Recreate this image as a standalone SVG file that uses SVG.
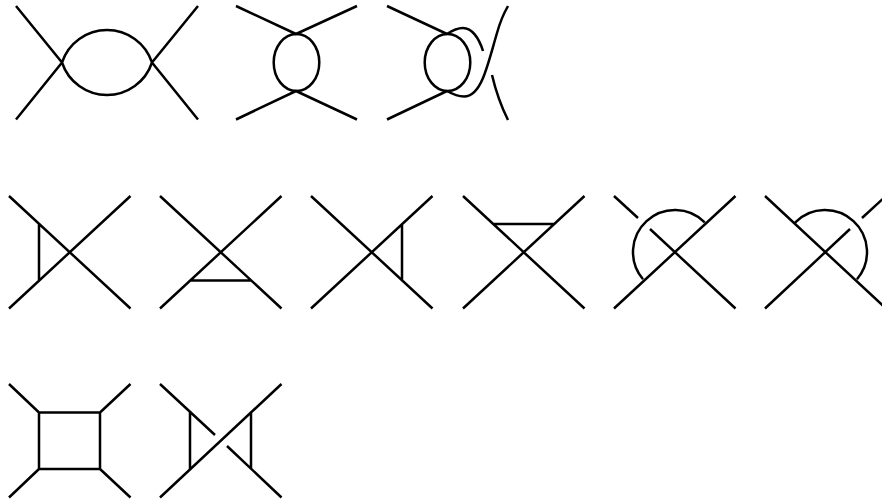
<svg xmlns="http://www.w3.org/2000/svg" width="882" height="502" viewBox="0 0 882 502">
<style>
path,ellipse{fill:none;stroke:#000;stroke-width:2.5}
</style>
<rect width="882" height="502" fill="#fff"/>
<g id="connectors"></g>
<g id="bubble-wide"><path d="M16 6L62 62.500L16 119.500M198 6L152 62.500L198 119.500M62 62.500A47.400 47.400 0 0 1 152 62.500A47.400 47.400 0 0 1 62 62.500"/></g>
<g id="bubble-round"><path d="M236 6L296 34L357 6M236 119.500L296 91L357 119.500"/><ellipse cx="296.500" cy="62.500" rx="22.800" ry="28.500"/></g>
<g id="bubble-crossed"><path d="M387 6L447 34M387 119.500L447 91"/><ellipse cx="447.500" cy="62.500" rx="22.800" ry="28.500"/><path d="M447 34C453 30 458 28 463 28C472 28 479 38 483 51M447 91C454 95 459 96.500 464 96.500C472 96.500 478 90 483 78C488 66 492 50 497 33C500 22 504 13 508 6M492 75C496 92 501 106 508 120"/></g>
<g id="tri-left"><path d="M9 196L130.500 308.500M9 308.500L130.500 196M39 224V280.500"/></g>
<g id="tri-bottom"><path d="M160 196L281.500 308.500M160 308.500L281.500 196M190 280.500H251"/></g>
<g id="tri-right"><path d="M311 196L432.500 308.500M311 308.500L432.500 196M402 224V280.500"/></g>
<g id="tri-top"><path d="M463 196L584.500 308.500M463 308.500L584.500 196M493 224H554"/></g>
<g id="crossed-left"><path d="M614 308.500L735.500 196M735.500 308.500L650 229M614 196L638 218M643 279.200A42 42 0 0 1 704.700 222.300"/></g>
<g id="crossed-right"><path d="M765 196L886 308.500M765 308.500L850 229M862 218L886 196M795.300 222.300A42 42 0 0 1 857 279.200"/></g>
<g id="box"><path d="M39 412.500H100V469H39ZM39 412.500L9 384M100 412.500L130.500 384M39 469L9 497.500M100 469L130.500 497.500"/></g>
<g id="box-crossed"><path d="M160 384L215 435M160 497.500L281.500 384M227 446L281.500 497.500M190 412.500V469M251 412.500V469"/></g>
</svg>
